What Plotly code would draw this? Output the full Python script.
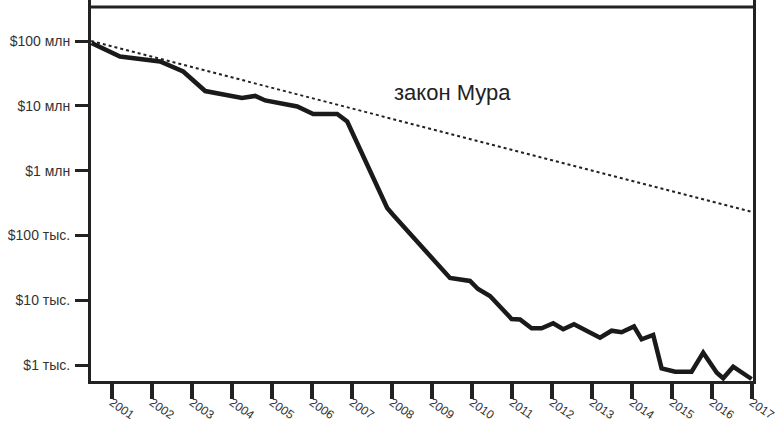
import plotly.graph_objects as go

# Cost of sequencing a human genome (USD)
years = [2000.49, 2001.2, 2002.2, 2002.78, 2003.33, 2004.25, 2004.58, 2004.83,
         2005.63, 2006.03, 2006.63, 2006.88, 2007.88, 2008.03, 2009.45, 2009.95,
         2010.15, 2010.45, 2010.99, 2011.2, 2011.49, 2011.74, 2012.03, 2012.28,
         2012.55, 2013.2, 2013.49, 2013.74, 2014.05, 2014.24, 2014.53, 2014.74,
         2015.08, 2015.49, 2015.78, 2016.12, 2016.28, 2016.53, 2016.99]
costs = [93e6, 57.7e6, 48.3e6, 33.8e6, 16.9e6, 13.2e6, 14.2e6, 12.1e6,
         9.76e6, 7.47e6, 7.47e6, 5.72e6, 265e3, 206e3, 22e3, 19.8e3,
         14.9e3, 11.6e3, 5.13e3, 5.04e3, 3.68e3, 3.68e3, 4.40e3, 3.56e3,
         4.25e3, 2.64e3, 3.38e3, 3.20e3, 3.93e3, 2.49e3, 2.91e3, 889,
         789, 789, 1550, 761, 624, 942, 608]

# Moore's law reference line
moore_years = [2000.48, 2017.0]
moore_values = [1.0e8, 2.3e5]
moore_label = "закон Мура"

x_ticks = list(range(2001, 2018))
x_tick_labels = [str(y) for y in x_ticks]
y_ticks = [1e3, 1e4, 1e5, 1e6, 1e7, 1e8]
y_tick_labels = ["$1 тыс.", "$10 тыс.", "$100 тыс.", "$1 млн", "$10 млн", "$100 млн"]

FONT = "Liberation Sans, Arial, sans-serif"

fig = go.Figure()
fig.add_trace(go.Scatter(x=moore_years, y=moore_values, mode="lines",
                         line=dict(color="#222222", width=2, dash="dot"),
                         hoverinfo="skip", showlegend=False))
fig.add_trace(go.Scatter(x=years, y=costs, mode="lines",
                         line=dict(color="#1a1a1a", width=4.5),
                         showlegend=False))

fig.add_annotation(x=2009.5, y=7.21, xref="x", yref="y", text=moore_label,
                   showarrow=False,
                   font=dict(family=FONT, size=22, color="#222222"))

# thick top border line below the top edge
fig.add_shape(type="line", xref="paper", yref="paper", x0=0, x1=1,
              y0=1 - 7 / 381, y1=1 - 7 / 381,
              line=dict(color="#222222", width=3))

fig.update_layout(
    width=776, height=421,
    margin=dict(l=91, r=23, t=0, b=40, autoexpand=False),
    paper_bgcolor="white", plot_bgcolor="white",
    font=dict(family=FONT, color="#333333"),
    xaxis=dict(range=[2000.475, 2017.025], tickmode="array", tickvals=x_ticks,
               ticktext=x_tick_labels, tickangle=35, ticks="outside", ticklen=15,
               tickwidth=4, tickcolor="#222222", showline=True, linewidth=3,
               linecolor="#222222", showgrid=False, zeroline=False, automargin=False,
               tickfont=dict(size=12, color="#333333"), ticklabelstandoff=-8,
               ticklabeloverflow="allow"),
    yaxis=dict(type="log", range=[2.753, 8.633], tickmode="array", tickvals=y_ticks,
               ticktext=y_tick_labels, ticks="outside", ticklen=13, tickwidth=3,
               tickcolor="#222222", showline=True, mirror=True, linewidth=3,
               linecolor="#222222", showgrid=False, zeroline=False, automargin=False,
               tickfont=dict(size=14, color="#333333"), ticklabelstandoff=2),
)

fig.write_html("out.html", config={"displayModeBar": False},
               post_script="document.body.style.margin='0';document.body.style.overflow='hidden';")
